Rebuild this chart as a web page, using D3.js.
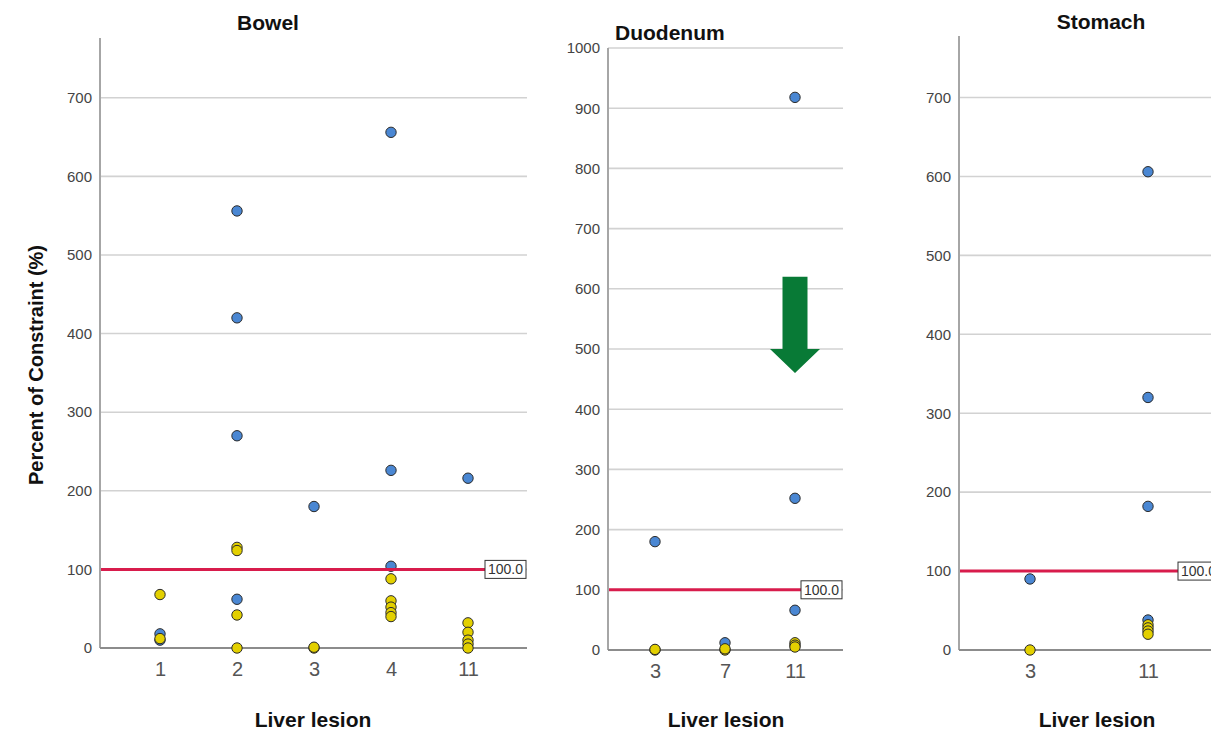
<!DOCTYPE html>
<html>
<head>
<meta charset="utf-8">
<script src="https://cdn.jsdelivr.net/npm/d3@7"></script>
<style>
    body { margin: 0; background: #fff; }
    svg { font-family: "Liberation Sans", Arial, sans-serif; }
</style>
</head>
<body>
<div id="chart"></div>
<script>
// Lesion categories per organ.
const bowelLesions = ["1", "2", "3", "4", "11"];
const duodenumLesions = ["3", "7", "11"];
const stomachLesions = ["3", "11"];

// Blue points: [lesion, percent of constraint].
const bowelBlue = [["1", 18], ["1", 10], ["2", 556], ["2", 420], ["2", 270], ["2", 62],
    ["3", 180], ["4", 656], ["4", 226], ["4", 104], ["11", 216]];
const duodenumBlue = [["3", 180], ["7", 12], ["11", 918], ["11", 252], ["11", 66]];
const stomachBlue = [["3", 90], ["11", 606], ["11", 320], ["11", 182], ["11", 38]];

// Yellow points.
const bowelYellow = [["1", 68], ["1", 12], ["2", 128], ["2", 124], ["2", 42], ["2", 0],
    ["3", 0], ["3", 1], ["4", 88], ["4", 60], ["4", 52], ["4", 45], ["4", 40],
    ["11", 32], ["11", 20], ["11", 10], ["11", 5], ["11", 0]];
const duodenumYellow = [["3", 0], ["3", 1], ["7", 0], ["7", 2], ["11", 12], ["11", 8], ["11", 5]];
const stomachYellow = [["3", 0], ["11", 32], ["11", 28], ["11", 24], ["11", 20]];

// Y tick values.
const bowelTicks = [0, 100, 200, 300, 400, 500, 600, 700];
const duodenumTicks = [0, 100, 200, 300, 400, 500, 600, 700, 800, 900, 1000];
const stomachTicks = [0, 100, 200, 300, 400, 500, 600, 700];

const constraintLimit = 100;
const arrowFrom = 620, arrowShaftEnd = 500, arrowTo = 460;

const width = 1211, height = 733;

const svg = d3.select("#chart").append("svg")
    .attr("width", width)
    .attr("height", height);

// Layout of the three panels.
const panels = [
    {title: "Bowel", lesions: bowelLesions, blue: bowelBlue, yellow: bowelYellow, ticks: bowelTicks,
        yMax: 776, left: 100, right: 527, top: 38, bottom: 648, xFirst: 160, xLast: 468,
        titleX: 268, titleY: 30, titleAnchor: "middle", labelX: 313},
    {title: "Duodenum", lesions: duodenumLesions, blue: duodenumBlue, yellow: duodenumYellow, ticks: duodenumTicks,
        yMax: 1000, left: 608, right: 843, top: 48, bottom: 650, xFirst: 655, xLast: 795,
        titleX: 615, titleY: 40, titleAnchor: "start", labelX: 726, arrow: true},
    {title: "Stomach", lesions: stomachLesions, blue: stomachBlue, yellow: stomachYellow, ticks: stomachTicks,
        yMax: 778, left: 959, right: 1220, top: 36, bottom: 650, xFirst: 1030, xLast: 1148,
        titleX: 1101, titleY: 29, titleAnchor: "middle", labelX: 1097}
];

panels.forEach(function (p) {
    const g = svg.append("g");

    const x = d3.scalePoint()
        .domain(p.lesions)
        .range([p.xFirst, p.xLast]);

    const y = d3.scaleLinear()
        .domain([0, p.yMax])
        .range([p.bottom, p.top]);

    // Grid lines.
    g.selectAll(".grid")
        .data(p.ticks.filter(d => d > 0))
        .enter().append("line")
        .attr("x1", p.left)
        .attr("x2", p.right)
        .attr("y1", d => y(d))
        .attr("y2", d => y(d))
        .style("stroke", "#d2d2d2")
        .style("stroke-width", 1.6);

    // Y axis.
    const yAxis = g.append("g")
        .attr("transform", "translate(" + p.left + ",0)")
        .call(d3.axisLeft(y).tickValues(p.ticks).tickFormat(d3.format("d")).tickSize(0).tickPadding(8));
    yAxis.select(".domain").remove();
    yAxis.selectAll("text")
        .style("font-size", "15px")
        .style("fill", "#444");

    g.append("line")
        .attr("x1", p.left).attr("x2", p.left)
        .attr("y1", p.top).attr("y2", p.bottom)
        .style("stroke", "#a6a6a6")
        .style("stroke-width", 2);

    // X axis.
    const xAxis = g.append("g")
        .attr("transform", "translate(0," + p.bottom + ")")
        .call(d3.axisBottom(x).tickSize(0).tickPadding(14));
    xAxis.select(".domain").remove();
    xAxis.selectAll("text")
        .style("font-size", "20px")
        .style("fill", "#555");

    g.append("line")
        .attr("x1", p.left).attr("x2", p.right)
        .attr("y1", p.bottom).attr("y2", p.bottom)
        .style("stroke", "#8c8c8c")
        .style("stroke-width", 2);

    // Points.
    const drawPoints = function (data, fill) {
        g.selectAll(null)
            .data(data)
            .enter().append("circle")
            .attr("cx", d => x(d[0]))
            .attr("cy", d => y(d[1]))
            .attr("r", 5.2)
            .style("fill", fill)
            .style("stroke", "#2b2b2b")
            .style("stroke-width", 1);
    };
    drawPoints(p.blue, "#4a87d3");
    drawPoints(p.yellow, "#e3d000");

    // Reference line at 100 with its label box.
    g.append("line")
        .attr("x1", p.left + 1)
        .attr("x2", p.right - 42)
        .attr("y1", y(constraintLimit))
        .attr("y2", y(constraintLimit))
        .style("stroke", "#d81c4c")
        .style("stroke-width", 3);

    g.append("rect")
        .attr("x", p.right - 42)
        .attr("y", y(constraintLimit) - 9)
        .attr("width", 41)
        .attr("height", 18)
        .style("fill", "#fff")
        .style("stroke", "#333")
        .style("stroke-width", 1);

    g.append("text")
        .attr("x", p.right - 21.5)
        .attr("y", y(constraintLimit) + 5)
        .attr("text-anchor", "middle")
        .style("font-size", "14px")
        .style("fill", "#333")
        .text(constraintLimit.toFixed(1));

    // Titles.
    g.append("text")
        .attr("x", p.titleX)
        .attr("y", p.titleY)
        .attr("text-anchor", p.titleAnchor)
        .style("font-size", "21px")
        .style("font-weight", "bold")
        .style("fill", "#111")
        .text(p.title);

    g.append("text")
        .attr("x", p.labelX)
        .attr("y", 727)
        .attr("text-anchor", "middle")
        .style("font-size", "21px")
        .style("font-weight", "bold")
        .style("fill", "#111")
        .text("Liver lesion");

    // Green annotation arrow.
    if (p.arrow) {
        const cx = x("11");
        const arrow = d3.path();
        arrow.moveTo(cx - 12.5, y(arrowFrom));
        arrow.lineTo(cx + 12.5, y(arrowFrom));
        arrow.lineTo(cx + 12.5, y(arrowShaftEnd));
        arrow.lineTo(cx + 25, y(arrowShaftEnd));
        arrow.lineTo(cx, y(arrowTo));
        arrow.lineTo(cx - 25, y(arrowShaftEnd));
        arrow.lineTo(cx - 12.5, y(arrowShaftEnd));
        arrow.closePath();
        g.append("path")
            .attr("d", arrow.toString())
            .style("fill", "#087a36");
    }
});

// Shared y-axis title.
svg.append("text")
    .attr("transform", "translate(43,365) rotate(-90)")
    .attr("text-anchor", "middle")
    .style("font-size", "20px")
    .style("font-weight", "bold")
    .style("fill", "#111")
    .text("Percent of Constraint (%)");
</script>
</body>
</html>
